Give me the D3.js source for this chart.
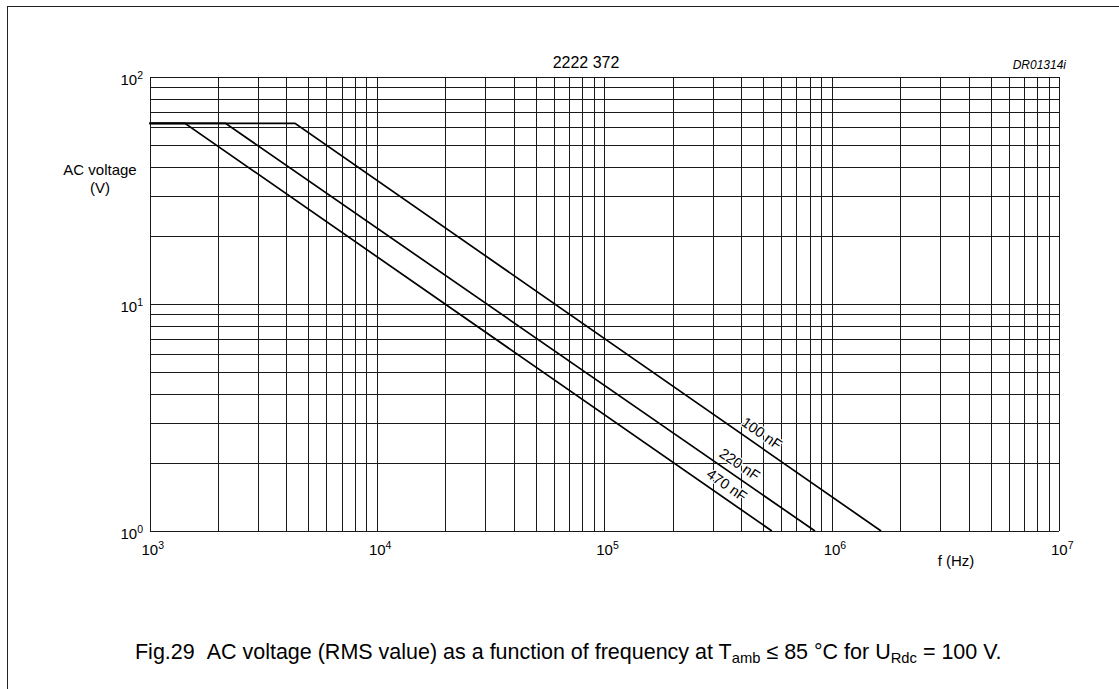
<!DOCTYPE html>
<html><head><meta charset="utf-8">
<script src="https://cdn.jsdelivr.net/npm/d3@7"></script>
<style>
body{margin:0;background:#fff}
text{font-family:"Liberation Sans", Arial, Helvetica, sans-serif; fill:#000}
</style>
</head><body>
<svg id="c" width="1119" height="689"></svg>
<script>
// ---- data ----
const seriesNames = ["100 nF", "220 nF", "470 nF"];
const series100 = [[1e3, 62.5], [4365, 62.5], [1.65e6, 1]];
const series220 = [[1e3, 62.5], [2160, 62.5], [8.45e5, 1]];
const series470 = [[1e3, 62.5], [1432, 62.5], [5.46e5, 1]];
const labelFreqs = [4.6e5, 3.68e5, 3.23e5];
const xTickExps = [3, 4, 5, 6, 7];
const yTickExps = [0, 1, 2];
const titleText = "2222 372";
const codeText = "DR01314i";
const yLabel = ["AC voltage", "(V)"];
const xLabel = "f (Hz)";

// ---- layout ----
const svg = d3.select("#c");
svg.append("rect").attr("width", 1119).attr("height", 689).attr("fill", "#fff");
const L = 149.5, R = 1059, T = 77, B = 531;
const x = d3.scaleLog().domain([1e3, 1e7]).range([L, R]);
const y = d3.scaleLog().domain([1, 100]).range([B, T]);

// page frame
svg.append("line").attr("x1", 7).attr("x2", 1119).attr("y1", 6.5).attr("y2", 6.5)
  .attr("stroke", "#222").attr("stroke-width", 1);
svg.append("line").attr("x1", 7.5).attr("x2", 7.5).attr("y1", 6).attr("y2", 689)
  .attr("stroke", "#222").attr("stroke-width", 1);

// grid
const g = svg.append("g").attr("shape-rendering", "crispEdges");
g.selectAll(".vx").data(x.ticks()).join("line")
  .attr("x1", d => Math.round(x(d)) + 0.5).attr("x2", d => Math.round(x(d)) + 0.5)
  .attr("y1", T).attr("y2", B).attr("stroke", "#1a1a1a").attr("stroke-width", 1);
g.selectAll(".hy").data(y.ticks()).join("line")
  .attr("y1", d => Math.round(y(d)) + 0.5).attr("y2", d => Math.round(y(d)) + 0.5)
  .attr("x1", L).attr("x2", R).attr("stroke", "#1a1a1a").attr("stroke-width", 1);

// curves
const allSeries = [series100, series220, series470];
const line = d3.line().x(d => x(d[0])).y(d => y(d[1]));
svg.append("g").selectAll("path").data(allSeries).join("path")
  .attr("d", line).attr("fill", "none").attr("stroke", "#000").attr("stroke-width", 1.7);

// curve labels
function valueAt(s, f) {
  for (let i = 0; i < s.length - 1; i++) {
    const [f0, v0] = s[i], [f1, v1] = s[i + 1];
    if (f >= f0 && f <= f1) {
      const t = (Math.log(f) - Math.log(f0)) / (Math.log(f1) - Math.log(f0));
      return Math.exp(Math.log(v0) + t * (Math.log(v1) - Math.log(v0)));
    }
  }
  return s[s.length - 1][1];
}
allSeries.forEach((s, i) => {
  const f = labelFreqs[i];
  const px = x(f), py = y(valueAt(s, f));
  const a = s[1], b = s[2];
  const ang = Math.atan2(y(b[1]) - y(a[1]), x(b[0]) - x(a[0])) * 180 / Math.PI;
  svg.append("text")
    .attr("transform", `translate(${px},${py}) rotate(${ang})`)
    .attr("y", -7).attr("text-anchor", "middle")
    .attr("font-size", 14.5)
    .attr("stroke", "#fff").attr("stroke-width", 2.5).attr("paint-order", "stroke")
    .style("stroke-linejoin", "round")
    .text(seriesNames[i]);
});

// tick labels
function powLabel(sel, exp) {
  sel.append("tspan").text("10");
  sel.append("tspan").attr("font-size", 10.5).attr("dy", -6).text(exp);
}
xTickExps.forEach(e => {
  const t = svg.append("text").attr("x", x(Math.pow(10, e)) - 8).attr("y", 555)
    .attr("font-size", 15);
  powLabel(t, e);
});
yTickExps.forEach(e => {
  const t = svg.append("text").attr("x", 143).attr("y", y(Math.pow(10, e)) + 8)
    .attr("text-anchor", "end").attr("font-size", 15);
  powLabel(t, e);
});

// axis titles
svg.append("text").attr("x", 100).attr("y", 175).attr("text-anchor", "middle")
  .attr("font-size", 15).text(yLabel[0]);
svg.append("text").attr("x", 100).attr("y", 193).attr("text-anchor", "middle")
  .attr("font-size", 15).text(yLabel[1]);
svg.append("text").attr("x", 956).attr("y", 566).attr("text-anchor", "middle")
  .attr("font-size", 15).text(xLabel);

// title & code
svg.append("text").attr("x", 586).attr("y", 68).attr("text-anchor", "middle")
  .attr("font-size", 16).text(titleText);
svg.append("text").attr("x", 1066).attr("y", 69).attr("text-anchor", "end")
  .attr("font-size", 12).attr("font-style", "italic").text(codeText);

// caption
const cap = svg.append("text").attr("x", 135).attr("y", 659).attr("font-size", 16);
cap.append("tspan").text("Fig.29\u00A0\u00A0AC voltage (RMS value) as a function of frequency at T");
cap.append("tspan").attr("class", "sub").attr("dy", 4).text("amb");
cap.append("tspan").attr("dy", -4).text(" \u2264 85 \u00B0C for U");
cap.append("tspan").attr("class", "sub").attr("dy", 4).text("Rdc");
cap.append("tspan").attr("dy", -4).text(" = 100 V.");
cap.selectAll("tspan.sub").attr("font-size", 11);
const w = cap.node().getComputedTextLength();
const target = 867;
const k = target / w;
cap.attr("font-size", 16 * k);
cap.selectAll("tspan.sub").attr("font-size", 11 * k);
</script>
</body></html>
